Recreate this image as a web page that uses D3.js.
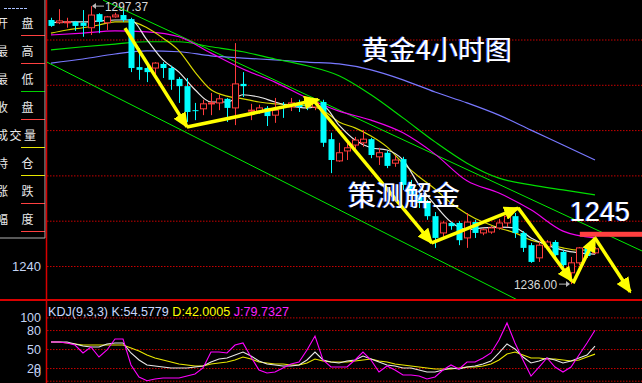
<!DOCTYPE html>
<html>
<head>
<meta charset="utf-8">
<script src="https://cdn.jsdelivr.net/npm/d3@7"></script>
<style>
  body { margin: 0; background: #000; }
  .svg_area { width: 642px; height: 383px; }
</style>
</head>
<body>
<div class="svg_area"></div>
<script>
// Gold 4h candle chart with MA lines and KDJ panel

// Candles (price, one per bar)
var openP = [1294.3,1293.7,1293.7,1293.9,1293.7,1292.6,1295.6,1293.7,1295.0,1295.4,
  1294.5,1283.9,1283.7,1283.7,1284.6,1283.7,1281.3,1279.7,1274.4,1274.7,
  1275.8,1276.0,1276.9,1274.9,1280.2,1274.2,1274.2,1274.9,1273.3,1275.3,
  1275.1,1276.0,1276.0,1275.1,1276.2,1268.0,1263.2,1265.4,1266.7,1267.2,
  1268.0,1264.1,1265.0,1262.7,1263.6,1258.1,1255.7,1254.1,1251.0,1247.3,
  1249.5,1249.5,1246.2,1249.7,1247.3,1247.5,1248.4,1249.5,1251.0,1247.3,
  1244.6,1241.8,1244.2,1245.3,1243.1,1238.5,1240.7,1244.0,1242.9];
var highP = [1294.8,1296.7,1294.8,1294.1,1296.5,1297.37,1295.8,1295.2,1295.9,1296.5,
  1294.8,1288.1,1284.2,1285.0,1285.0,1284.2,1281.7,1281.5,1276.0,1276.7,
  1278.2,1277.8,1277.1,1289.2,1282.8,1275.8,1275.6,1275.3,1277.1,1276.2,
  1277.1,1276.7,1276.9,1276.7,1276.7,1269.4,1267.2,1267.8,1268.5,1270.0,
  1268.3,1266.1,1265.4,1264.3,1264.1,1259.0,1256.8,1254.6,1251.9,1249.9,
  1249.7,1249.9,1251.7,1250.2,1248.4,1248.8,1250.4,1251.7,1251.7,1247.7,
  1245.1,1245.3,1245.7,1245.7,1243.5,1242.0,1244.2,1244.4,1244.2];
var lowP = [1292.8,1293.4,1292.6,1291.9,1290.6,1291.0,1291.4,1292.1,1294.8,1293.9,
  1282.8,1281.1,1280.6,1282.2,1281.5,1278.9,1276.0,1271.8,1272.2,1273.3,
  1273.3,1274.4,1271.8,1271.1,1277.3,1272.2,1273.6,1270.9,1271.6,1272.7,
  1274.2,1274.0,1274.4,1274.4,1266.3,1260.5,1263.0,1263.4,1265.6,1266.3,
  1263.8,1262.3,1261.6,1261.9,1256.8,1254.6,1252.8,1250.2,1244.0,1246.4,
  1248.0,1244.6,1244.0,1246.2,1246.8,1247.1,1248.0,1248.6,1246.2,1243.1,
  1240.7,1240.9,1244.0,1242.0,1239.8,1236.0,1240.2,1241.8,1242.6];
var closeP = [1293.0,1294.1,1293.9,1293.0,1293.0,1295.4,1293.9,1295.0,1295.4,1294.3,
  1283.7,1283.3,1282.8,1284.8,1283.7,1281.1,1279.7,1274.0,1274.2,1275.8,
  1276.0,1276.9,1274.9,1280.2,1279.7,1274.4,1274.9,1273.1,1274.4,1274.9,
  1276.0,1275.1,1275.3,1276.0,1267.2,1263.4,1265.0,1266.1,1267.8,1268.0,
  1264.5,1265.0,1262.1,1263.4,1257.9,1255.7,1253.9,1251.0,1246.2,1249.5,
  1248.8,1245.7,1249.7,1247.3,1248.0,1248.4,1249.5,1251.0,1247.3,1244.0,
  1240.9,1244.6,1245.3,1242.4,1240.2,1240.7,1244.0,1242.2,1243.8];

// Moving average lines (read at every 2nd / 4th bar)
var maIdx2 = d3.range(0, 69, 2);
var maWhite = [1293.7,1293.9,1293.9,1294.1,1294.3,1294.3,1289.9,1285.5,1282.8,1278.9,
  1276.2,1276.2,1277.8,1277.3,1276.2,1275.3,1274.9,1275.3,1271.1,1267.8,
  1266.1,1265.6,1263.4,1257.9,1253.5,1249.7,1248.0,1248.4,1248.6,1248.4,
  1246.2,1244.6,1243.5,1242.9,1242.6];
var maYellow = [1291.4,1292.1,1292.6,1293.2,1293.9,1293.9,1292.6,1290.3,1287.5,1282.8,
  1278.9,1277.5,1276.9,1276.2,1275.8,1275.6,1275.3,1274.4,1271.8,1270.5,
  1268.7,1266.3,1262.7,1259.7,1257.0,1253.9,1251.5,1249.7,1248.4,1247.3,
  1245.7,1244.9,1244.0,1243.5,1243.5];
var maIdx4 = d3.range(0, 69, 4);
var maMagenta = [1291.0,1291.4,1291.9,1291.7,1290.6,1287.0,1283.5,1280.6,1277.1,1274.2,
  1272.2,1269.4,1264.7,1258.8,1256.1,1252.4,1247.7,1246.2];
var maGreen = [1287.7,1288.4,1289.0,1289.5,1289.5,1288.4,1287.3,1285.7,1284.2,1282.0,
  1277.8,1272.7,1267.4,1262.7,1259.4,1257.9,1256.8,1255.7];
var maBlue = [1284.8,1285.7,1286.8,1287.5,1287.3,1286.4,1285.9,1285.5,1285.0,1284.6,
  1283.3,1281.1,1278.4,1276.0,1273.3,1270.0,1266.7,1263.4];

// KDJ(9,3,3)
var kVals = [61.1,61.1,61.1,58.0,54.8,53.2,53.2,58.0,59.6,59.6,
  43.8,32.7,24.8,23.2,21.6,20.1,20.1,20.1,21.6,23.2,
  29.5,34.3,35.9,40.6,45.3,39.0,31.1,26.4,24.8,23.2,
  23.2,24.8,32.7,45.3,32.7,29.5,28.0,31.1,32.7,39.0,
  34.3,29.5,24.8,23.2,20.1,20.1,16.9,13.7,13.7,16.9,
  20.1,18.5,21.6,23.2,26.4,31.1,43.8,58.0,50.1,37.4,
  28.0,31.1,35.9,32.7,28.0,31.1,35.9,40.6,54.58];
var dVals = [61.1,61.1,59.6,58.0,56.4,56.4,56.4,56.4,56.4,56.4,
  51.7,46.9,40.6,35.9,32.7,29.5,26.4,24.8,23.2,23.2,
  26.4,28.0,29.5,32.7,37.4,34.3,29.5,28.0,26.4,26.4,
  24.8,24.8,28.0,34.3,31.1,29.5,29.5,29.5,31.1,32.7,
  34.3,31.1,29.5,26.4,24.8,23.2,21.6,20.1,18.5,18.5,
  18.5,20.1,21.6,21.6,23.2,26.4,32.7,42.2,45.3,40.6,
  35.9,35.9,34.3,34.3,32.7,31.1,32.7,37.4,42.0];
var jVals = [61.1,61.1,59.6,56.4,43.8,53.2,37.4,48.5,65.9,65.9,
  24.8,5.8,0,2.7,4.3,4.3,4.3,7.4,10.6,20.1,
  45.3,45.3,43.8,56.4,59.6,37.4,16.9,12.2,13.7,20.1,
  26.4,29.5,48.5,70.6,32.7,21.6,21.6,21.6,32.7,45.3,
  32.7,13.7,23.2,16.9,9.0,9.0,7.4,2.7,5.8,16.9,
  24.8,18.5,29.5,29.5,35.9,43.8,64.3,91.2,59.6,32.7,
  7.4,21.6,35.9,21.6,13.7,21.6,40.6,59.6,79.73];

// trend lines and hand drawn arrows, as [bar index, price]
var channelLines = [[[6.5, 1298.7], [73.9, 1243.3]], [[-0.5, 1285.0], [60, 1231.0]]];
var arrowFrom = [[9.25, 1292.5], [17, 1270.7], [32.75, 1276.7], [47.6, 1245.1], [58.4, 1252.8], [65.25, 1236.2], [68, 1246.2]];
var arrowTo = [[17, 1270.7], [33.4, 1276.7], [47.6, 1245.1], [58.4, 1252.8], [65.1, 1236.7], [68, 1246.2], [72.4, 1234.3]];

var priceTicks = [1240, 1250, 1260, 1270, 1280, 1290];
var kdjTicks = [100, 80, 50, 20, 0];
var sideLabels = [["开", "盘"], ["最", "高"], ["最", "低"], ["收", "盘"], ["成", "交", "量"], ["持", "仓"], ["涨", "跌"], ["幅", "度"]];
var sideColors = ["#ff4040", "#ff4040", "#00d000", "#ff4040", "#e8e800", "#e8e800", "#ff4040", "#ff4040"];

var svgWidth = 642;
var svgHeight = 383;

var svg = d3.select(".svg_area")
  .append("svg")
  .attr("width", svgWidth)
  .attr("height", svgHeight)
  .style("background", "#000")
  .style("font-family", "'Liberation Sans', Arial, sans-serif");

var defs = svg.append("defs");
defs.append("clipPath").attr("id", "mainClip")
  .append("rect").attr("x", 47).attr("y", 0).attr("width", 595).attr("height", 299);
defs.append("clipPath").attr("id", "kdjClip")
  .append("rect").attr("x", 47).attr("y", 301).attr("width", 595).attr("height", 82);
defs.append("marker")
  .attr("id", "arrowHead")
  .attr("markerUnits", "userSpaceOnUse")
  .attr("markerWidth", 16).attr("markerHeight", 14)
  .attr("refX", 14).attr("refY", 7)
  .attr("orient", "auto")
  .append("path")
  .attr("d", "M0,0 L16,7 L0,14 Z")
  .attr("fill", "#ffff00");

// scales
var xScale = d3.scaleLinear().domain([0, 68]).range([51, 595]);
var yScale = d3.scaleLinear().domain([1240, 1290]).range([266, 39.5]);
var kdjY = d3.scaleLinear().domain([0, 100]).range([380.7, 317.4]);

// grid lines
svg.append("g")
  .attr("transform", "translate(47,0)")
  .call(d3.axisRight(yScale).tickValues(priceTicks).tickSize(595).tickFormat(""))
  .call(g => g.select(".domain").remove())
  .selectAll("line")
  .attr("stroke", "#c80000")
  .attr("stroke-dasharray", "1.5,1.5");

svg.append("g")
  .attr("transform", "translate(47,0)")
  .call(d3.axisRight(kdjY).tickValues(kdjTicks).tickSize(595).tickFormat(""))
  .call(g => g.select(".domain").remove())
  .selectAll("line")
  .attr("stroke", "#c80000")
  .attr("stroke-dasharray", "1.5,1.5");

// price axis label
svg.append("g")
  .attr("transform", "translate(46,0)")
  .call(d3.axisLeft(yScale).tickValues([1240]).tickSize(0).tickPadding(5).tickFormat(d3.format("d")))
  .call(g => g.select(".domain").remove())
  .selectAll("text")
  .attr("fill", "#c4d4f4")
  .style("font-size", "13px")
  .style("font-family", "'Liberation Sans', Arial, sans-serif");

// kdj axis labels
svg.append("g")
  .attr("transform", "translate(46,0)")
  .call(d3.axisLeft(kdjY).tickValues(kdjTicks).tickSize(0).tickPadding(5))
  .call(g => g.select(".domain").remove())
  .selectAll("text")
  .attr("fill", "#c4d4f4")
  .attr("dy", d => d === 0 ? "-0.3em" : "0.32em")
  .style("font-size", "12.5px")
  .style("font-family", "'Liberation Sans', Arial, sans-serif");

// left info panel
var side = svg.append("g");
side.append("line").attr("x1", 4).attr("x2", 28).attr("y1", 8.5).attr("y2", 8.5)
  .attr("stroke", "#a8c0ff").attr("stroke-dasharray", "3,1");
sideLabels.forEach(function(chars, i) {
  var yc = 23 + i * 28;
  var xs = chars.length === 3 ? [-4, 9.5, 24] : [-4, 21.5];
  chars.forEach(function(c, j) {
    side.append("text")
      .attr("x", xs[j])
      .attr("y", yc + 4.5)
      .attr("fill", "#e8e8e8")
      .style("font-size", "12px")
      .style("font-family", "'Noto Sans CJK SC', sans-serif")
      .text(c);
  });
  side.append("line")
    .attr("x1", 21).attr("x2", 45)
    .attr("y1", yc + 12.5).attr("y2", yc + 12.5)
    .attr("stroke", sideColors[i]);
});
side.append("line").attr("x1", 45).attr("x2", 45).attr("y1", 0).attr("y2", 238).attr("stroke", "#b0b0b0");
side.append("line").attr("x1", 0).attr("x2", 45).attr("y1", 238).attr("y2", 238).attr("stroke", "#b0b0b0");

// panel borders
svg.append("line").attr("x1", 46.5).attr("x2", 46.5).attr("y1", 0).attr("y2", 383)
  .attr("stroke", "#d80000").attr("stroke-width", 1.5);
svg.append("line").attr("x1", 0).attr("x2", 642).attr("y1", 300).attr("y2", 300)
  .attr("stroke", "#d80000").attr("stroke-width", 2);

var mainGroup = svg.append("g").attr("clip-path", "url(#mainClip)");

// channel lines
mainGroup.selectAll(".channel")
  .data(channelLines)
  .enter()
  .append("line")
  .attr("x1", d => xScale(d[0][0]))
  .attr("y1", d => yScale(d[0][1]))
  .attr("x2", d => xScale(d[1][0]))
  .attr("y2", d => yScale(d[1][1]))
  .attr("stroke", "#00ee00")
  .attr("stroke-width", 1);

// moving averages
var maLine = d3.line()
  .x(d => xScale(d[0]))
  .y(d => yScale(d[1]))
  .curve(d3.curveMonotoneX);

var maSeries = [
  { idx: maIdx4, vals: maBlue, color: "#7878ff" },
  { idx: maIdx4, vals: maGreen, color: "#00dd00" },
  { idx: maIdx4, vals: maMagenta, color: "#ee00ee" },
  { idx: maIdx2, vals: maYellow, color: "#d8d800" },
  { idx: maIdx2, vals: maWhite, color: "#e8e8e8" }
];
maSeries.forEach(function(s) {
  mainGroup.append("path")
    .datum(s.idx.map((ix, k) => [ix, s.vals[k]]))
    .attr("d", maLine)
    .attr("fill", "none")
    .attr("stroke", s.color)
    .attr("stroke-width", 1.2);
});

// candles
var candles = d3.range(openP.length).map(function(i) {
  return { i: i, o: openP[i], h: highP[i], l: lowP[i], c: closeP[i] };
});
var upColor = "#ff3c3c";
var downColor = "#00ffff";

mainGroup.selectAll(".wick")
  .data(candles)
  .enter()
  .append("line")
  .attr("x1", d => Math.round(xScale(d.i)) + 0.5)
  .attr("x2", d => Math.round(xScale(d.i)) + 0.5)
  .attr("y1", d => yScale(d.h))
  .attr("y2", d => yScale(d.l))
  .attr("stroke", d => d.c >= d.o ? upColor : downColor);

mainGroup.selectAll(".body")
  .data(candles)
  .enter()
  .append("rect")
  .attr("x", d => Math.round(xScale(d.i)) - 2.5)
  .attr("width", 6)
  .attr("y", d => yScale(Math.max(d.o, d.c)))
  .attr("height", d => Math.max(1, Math.abs(yScale(d.o) - yScale(d.c))))
  .attr("fill", d => d.c >= d.o ? "#000" : downColor)
  .attr("stroke", d => d.c >= d.o ? upColor : "none");

// current price marker
mainGroup.append("rect")
  .attr("x", xScale(66.1))
  .attr("y", yScale(1247) - 2.5)
  .attr("width", 642 - xScale(66.1))
  .attr("height", 5)
  .attr("fill", "#ff4040");

// arrows
mainGroup.selectAll(".arrow")
  .data(arrowFrom)
  .enter()
  .append("line")
  .attr("x1", d => xScale(d[0]))
  .attr("y1", d => yScale(d[1]))
  .attr("x2", (d, k) => xScale(arrowTo[k][0]))
  .attr("y2", (d, k) => yScale(arrowTo[k][1]))
  .attr("stroke", "#ffff00")
  .attr("stroke-width", 3.5)
  .attr("marker-end", "url(#arrowHead)");

// high / low notes
var hiX = xScale(5), hiY = yScale(1297.37);
svg.append("line").attr("x1", hiX + 13).attr("x2", hiX + 2).attr("y1", hiY).attr("y2", hiY)
  .attr("stroke", "#b8b8b8");
svg.append("path").attr("d", `M${hiX + 1},${hiY} l4,-3 l0,6 Z`).attr("fill", "#b8b8b8");
svg.append("text").attr("x", hiX + 14).attr("y", hiY + 5)
  .attr("fill", "#d8d8d8").style("font-size", "13px")
  .attr("textLength", 43).attr("lengthAdjust", "spacingAndGlyphs").text("1297.37");

var loX = xScale(65), loY = yScale(1236.0);
svg.append("text").attr("x", loX - 57).attr("y", loY + 5)
  .attr("fill", "#d8d8d8").style("font-size", "13px")
  .attr("textLength", 43).attr("lengthAdjust", "spacingAndGlyphs").text("1236.00");
svg.append("line").attr("x1", loX - 12).attr("x2", loX - 2).attr("y1", loY).attr("y2", loY)
  .attr("stroke", "#b8b8b8");
svg.append("path").attr("d", `M${loX - 1},${loY} l-4,-3 l0,6 Z`).attr("fill", "#b8b8b8");

// titles
function bigText(x, y, size, str, family) {
  svg.append("text").attr("x", x - 1).attr("y", y)
    .attr("fill", "#4a6cff").style("font-size", size + "px").style("font-family", family).text(str);
  svg.append("text").attr("x", x).attr("y", y)
    .attr("fill", "#ffffff").style("font-size", size + "px").style("font-family", family).text(str);
}
bigText(362, 59.5, 27, "黄金4小时图", "'Noto Sans CJK SC', sans-serif");
bigText(348, 206, 28, "策测解金", "'Noto Sans CJK SC', sans-serif");
bigText(570, 221, 27, "1245", "'Liberation Sans', Arial, sans-serif");

// KDJ panel
var kdjGroup = svg.append("g").attr("clip-path", "url(#kdjClip)");
var kdjLine = d3.line()
  .x((d, i) => xScale(i))
  .y(d => kdjY(d));

[[dVals, "#e8e800"], [kVals, "#e8e8e8"], [jVals, "#ff00ff"]].forEach(function(s) {
  kdjGroup.append("path")
    .datum(s[0])
    .attr("d", kdjLine)
    .attr("fill", "none")
    .attr("stroke", s[1])
    .attr("stroke-width", 1.1);
});

var kdjText = svg.append("text")
  .attr("x", 48)
  .attr("y", 316)
  .attr("textLength", 241)
  .attr("lengthAdjust", "spacingAndGlyphs")
  .style("font-size", "13px");
kdjText.append("tspan").attr("fill", "#c8d8ff").text("KDJ(9,3,3) K:54.5779 ");
kdjText.append("tspan").attr("fill", "#ffff00").text("D:42.0005 ");
kdjText.append("tspan").attr("fill", "#ff20ff").text("J:79.7327");
</script>
</body>
</html>
